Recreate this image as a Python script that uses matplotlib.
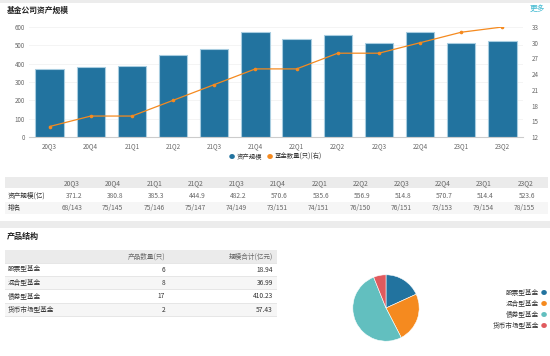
import matplotlib
matplotlib.use("Agg")
import matplotlib.pyplot as plt
from matplotlib.patches import Rectangle

plt.rcParams['font.family'] = ['Noto Sans CJK SC', 'DejaVu Sans']

# data
quarters = ["20Q3", "20Q4", "21Q1", "21Q2", "21Q3", "21Q4",
            "22Q1", "22Q2", "22Q3", "22Q4", "23Q1", "23Q2"]
assets = [371.2, 380.8, 385.3, 444.9, 482.2, 570.6,
          535.6, 556.9, 514.8, 570.7, 514.4, 523.6]
fund_count = [14, 16, 16, 19, 22, 25, 25, 28, 28, 30, 32, 33]
ranks = ["68/143", "75/145", "75/146", "75/147", "74/149", "73/151",
         "74/151", "76/150", "76/151", "73/153", "79/154", "78/155"]

prod_types = ["股票型基金", "混合型基金", "债券型基金", "货币市场型基金"]
prod_counts = [6, 8, 17, 2]
prod_scale = ["18.94", "36.99", "410.23", "57.43"]

BLUE = "#22739f"
ORANGE = "#f58a1f"
TEAL = "#62bfbf"
RED = "#e05a5e"
TXT = "#333333"
GREY_TXT = "#666666"

W, H = 550, 356
fig = plt.figure(figsize=(5.5, 3.56), dpi=100)


def fx(x):
    return x / W


def fy(y):
    return 1 - y / H


def rect(x, y, w, h, color):
    fig.patches.append(Rectangle((fx(x), fy(y + h)), w / W, h / H,
                                 transform=fig.transFigure, color=color,
                                 zorder=0, linewidth=0))


# page decorations
rect(0, 0, 550, 3, "#ececec")
rect(0, 17.5, 550, 0.8, "#dddddd")
rect(0, 221, 550, 7, "#ececec")
rect(0, 243.5, 550, 0.8, "#dddddd")

fig.text(fx(7), fy(10), "基金公司资产规模", fontsize=5.6, fontweight="bold",
         color="#222222", va="center")
fig.text(fx(545), fy(9), "更多", fontsize=5.5, color="#3cb8d0",
         va="center", ha="right")
fig.text(fx(7), fy(236), "产品结构", fontsize=5.8, fontweight="bold",
         color="#222222", va="center")

# bar + line chart
ax = fig.add_axes([fx(29), fy(137), 494 / W, 110 / H])
x = range(len(quarters))
ax.bar(x, assets, width=0.69, color=BLUE, edgecolor="#a8cde0",
       linewidth=0.8, zorder=2)
ax.set_xlim(-0.5, len(quarters) - 0.5)
ax.set_ylim(0, 600)
ax.set_yticks(range(0, 601, 100))
ax.set_xticks(list(x))
ax.set_xticklabels(quarters)
ax.grid(axis="y", color="#f2f2f2", linewidth=0.6, zorder=0)
for s in ["top", "left", "right"]:
    ax.spines[s].set_visible(False)
ax.spines["bottom"].set_color("#cccccc")
ax.tick_params(axis="both", labelsize=4.5, colors=GREY_TXT, length=0, pad=3)
ax.tick_params(axis="x", pad=4)

ax2 = ax.twinx()
ax2.plot(x, fund_count, color=ORANGE, linewidth=0.9, marker="o",
         markersize=1.6, zorder=3)
ax2.set_ylim(12, 33)
ax2.set_yticks(range(12, 34, 3))
for s in ["top", "left", "right", "bottom"]:
    ax2.spines[s].set_visible(False)
ax2.tick_params(axis="y", labelsize=4.5, colors=GREY_TXT, length=0, pad=6)

# legend
fig.text(fx(232), fy(157), "●", color=BLUE, fontsize=4.5, ha="center", va="center")
fig.text(fx(237), fy(157), "资产规模", color=TXT, fontsize=4.6, ha="left", va="center")
fig.text(fx(270), fy(157), "●", color=ORANGE, fontsize=4.5, ha="center", va="center")
fig.text(fx(275), fy(157), "基金数量(只)(右)", color=TXT, fontsize=4.6, ha="left", va="center")

# quarterly table
rect(5, 177, 543, 11, "#ebebeb")
rect(5, 202, 543, 12, "#f6f6f6")
for i, q in enumerate(quarters):
    xr = 80 + 41.2 * i
    fig.text(fx(xr), fy(183), q, fontsize=4.8, color=GREY_TXT, ha="right", va="center")
    fig.text(fx(xr + 2), fy(196), f"{assets[i]:.1f}", fontsize=4.8, color=GREY_TXT,
             ha="right", va="center")
    fig.text(fx(xr + 2), fy(208), ranks[i], fontsize=4.8, color=GREY_TXT,
             ha="right", va="center")
fig.text(fx(8), fy(196), "资产规模(亿)", fontsize=4.8, color=TXT, va="center")
fig.text(fx(8), fy(208), "排名", fontsize=4.8, color=TXT, va="center")

# product table
rect(5, 250, 272, 13, "#ebebeb")
rect(5, 276, 272, 13, "#f6f6f6")
rect(5, 303, 272, 13, "#f6f6f6")
for yy in [263, 276, 289, 303, 316]:
    rect(5, yy, 272, 0.5, "#e6e6e6")
fig.text(fx(165), fy(257), "产品数量(只)", fontsize=4.8, color=GREY_TXT, ha="right", va="center")
fig.text(fx(273), fy(257), "规模合计(亿元)", fontsize=4.8, color=GREY_TXT, ha="right", va="center")
for i, name in enumerate(prod_types):
    yy = 269.5 + 13.5 * i
    fig.text(fx(8), fy(yy), name, fontsize=4.8, color=TXT, va="center")
    fig.text(fx(165), fy(yy), str(prod_counts[i]), fontsize=4.8, color=TXT,
             ha="right", va="center")
    fig.text(fx(273), fy(yy), prod_scale[i], fontsize=4.8, color=TXT,
             ha="right", va="center")

# pie
r = 41.5
pax = fig.add_axes([fx(386 - r), fy(308 + r), 2 * r / W, 2 * r / H])
pax.pie(prod_counts, colors=[BLUE, ORANGE, TEAL, RED], startangle=90,
        counterclock=False, wedgeprops=dict(edgecolor="white", linewidth=0.4))
pax.set_aspect("equal")

pie_colors = [BLUE, ORANGE, TEAL, RED]
for i, name in enumerate(prod_types):
    yy = 293 + 11 * i
    fig.text(fx(539), fy(yy), name, fontsize=4.8, color=TXT, ha="right", va="center")
    fig.text(fx(544), fy(yy), "●", fontsize=4.5, color=pie_colors[i], ha="center", va="center")

fig.savefig("out.png", dpi=100)
